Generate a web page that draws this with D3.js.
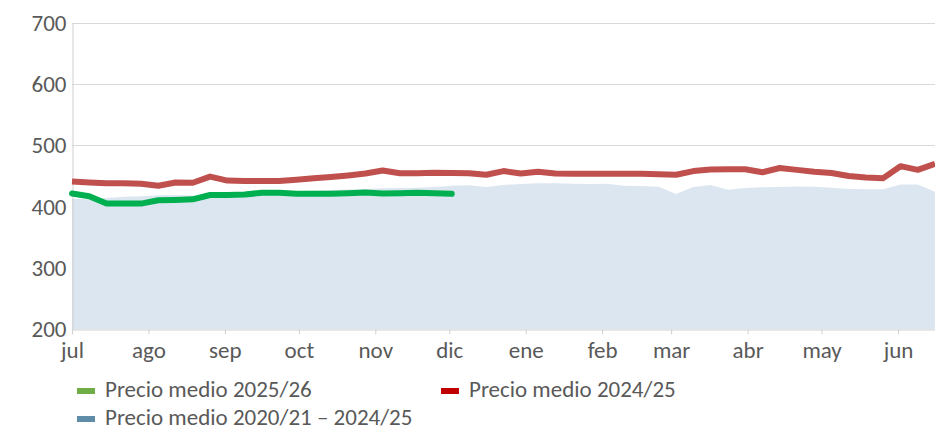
<!DOCTYPE html>
<html>
<head>
<meta charset="utf-8">
<script src="https://cdn.jsdelivr.net/npm/d3@7"></script>
<style>
  body { margin: 0; background: #fff; }
  svg text { font-family: Calibri, Carlito, Lato, sans-serif; fill: #595959; }
</style>
</head>
<body>
<svg id="chart" width="935" height="430"></svg>
<script>
// weekly dates (start of each week)
const weeks = [
  "2025-07-01", "2025-07-08", "2025-07-15", "2025-07-22", "2025-07-29",
  "2025-08-05", "2025-08-12", "2025-08-19", "2025-08-26",
  "2025-09-02", "2025-09-09", "2025-09-16", "2025-09-23", "2025-09-30",
  "2025-10-07", "2025-10-14", "2025-10-21", "2025-10-28",
  "2025-11-04", "2025-11-11", "2025-11-18", "2025-11-25",
  "2025-12-02", "2025-12-09", "2025-12-16", "2025-12-23", "2025-12-30",
  "2026-01-06", "2026-01-13", "2026-01-20", "2026-01-27",
  "2026-02-03", "2026-02-10", "2026-02-17", "2026-02-24",
  "2026-03-03", "2026-03-10", "2026-03-17", "2026-03-24", "2026-03-31",
  "2026-04-07", "2026-04-14", "2026-04-21", "2026-04-28",
  "2026-05-05", "2026-05-12", "2026-05-19", "2026-05-26",
  "2026-06-02", "2026-06-09", "2026-06-16"
];

// Precio medio 2020/21 – 2024/25 (area)
const avgFiveYears = [
  413, 412, 414, 416, 417, 418.5, 419, 418, 420, 421,
  422, 423, 424, 425, 426, 427, 428, 429, 430, 430.5,
  431, 432, 434, 435, 432, 435.5, 437, 438, 438, 437.5,
  437, 437.5, 434, 433.5, 432.5, 420.5, 432, 435.5, 427.5, 430.5,
  431.5, 432, 433, 432.5, 431, 429, 428.5, 428.5, 436, 436,
  424.5
];

// Precio medio 2024/25
const price2425 = [
  441, 439.5, 438, 438, 437.5, 434, 439.5, 439, 449, 442.5,
  442, 442, 442, 444, 446.5, 448.5, 451, 454, 459, 454.5,
  454.5, 455.5, 455, 454.5, 452, 458, 454, 457, 454, 453.5,
  453.5, 453.5, 453.5, 453.5, 453, 452, 458, 460.5, 461, 461,
  456, 463, 460, 457, 455, 450, 447.5, 446.5, 466, 460,
  470
];

// Precio medio 2025/26
const price2526 = [
  421.5, 417, 405, 405, 405, 410.5, 411, 412, 419, 419,
  420, 422.5, 422.5, 421, 421, 421, 422, 423, 421.5, 422,
  422.5, 422, 421
];

const monthLabels = ["jul", "ago", "sep", "oct", "nov", "dic", "ene", "feb", "mar", "abr", "may", "jun"];
const yTicks = [200, 300, 400, 500, 600, 700];

const legendItems = [
  { label: "Precio medio 2025/26", color: "#70AD47" },
  { label: "Precio medio 2024/25", color: "#C00000" },
  { label: "Precio medio 2020/21 \u2013 2024/25", color: "#5F8CA7" }
];

const parseDate = d3.timeParse("%Y-%m-%d");
const dates = weeks.map(parseDate);

const svg = d3.select("#chart");
const margin = { top: 22.7, right: 0, bottom: 100.7, left: 72 };
const width = 935;
const height = 430;
const fontSize = 23;

//Scales
const xScale = d3
  .scaleTime()
  .domain([new Date(2025, 6, 1), new Date(2026, 5, 16)])
  .range([margin.left, width - margin.right]);

const yScale = d3
  .scaleLinear()
  .domain([200, 700])
  .range([height - margin.bottom, margin.top]);

//Gridlines
svg
  .append("g")
  .selectAll("line")
  .data(yTicks.slice(1))
  .enter()
  .append("line")
  .attr("x1", margin.left)
  .attr("x2", width - margin.right)
  .attr("y1", (d) => Math.round(yScale(d)) + 0.5)
  .attr("y2", (d) => Math.round(yScale(d)) + 0.5)
  .attr("stroke", "#D9D9D9")
  .attr("stroke-width", 1);

//Area for the five year average
const area = d3
  .area()
  .x((d, i) => xScale(dates[i]))
  .y0(yScale(200))
  .y1((d) => yScale(d));

svg
  .append("path")
  .datum(avgFiveYears)
  .attr("d", area)
  .attr("fill", "#DCE6F1");

//Axes
const monthTicks = d3.timeMonth.range(new Date(2025, 6, 1), new Date(2026, 5, 2));
const xAxis = d3
  .axisBottom(xScale)
  .tickValues(monthTicks)
  .tickSize(5)
  .tickSizeOuter(0)
  .tickPadding(7)
  .tickFormat((d, i) => monthLabels[i]);

const xAxisG = svg
  .append("g")
  .attr("transform", `translate(0,${Math.round(yScale(200)) + 0.5})`)
  .call(xAxis);
xAxisG.select(".domain").attr("stroke", "#D0D0D0");
xAxisG.selectAll(".tick line").attr("stroke", "#D0D0D0");
xAxisG.selectAll("text").attr("font-size", fontSize).attr("fill", "#595959");

const yAxis = d3
  .axisLeft(yScale)
  .tickValues(yTicks)
  .tickSize(0)
  .tickPadding(6);

const yAxisG = svg
  .append("g")
  .attr("transform", `translate(${margin.left + 0.5},0)`)
  .call(yAxis);
yAxisG.select(".domain").attr("stroke", "#D0D0D0");
yAxisG.selectAll("text").attr("font-size", fontSize).attr("fill", "#595959");

//Lines
const line = d3
  .line()
  .x((d, i) => xScale(dates[i]))
  .y((d) => yScale(d));

svg
  .append("path")
  .datum(price2425)
  .attr("d", line)
  .attr("fill", "none")
  .attr("stroke", "#C0504D")
  .attr("stroke-width", 6)
  .attr("stroke-linejoin", "round");

svg
  .append("path")
  .datum(price2526)
  .attr("d", line)
  .attr("fill", "none")
  .attr("stroke", "#00B050")
  .attr("stroke-width", 6)
  .attr("stroke-linejoin", "round")
  .attr("stroke-linecap", "round");

//Legend (positions are text baselines)
const legendPos = [
  { x: 77, y: 397 },
  { x: 441, y: 397 },
  { x: 77, y: 425 }
];

const legend = svg
  .append("g")
  .selectAll("g")
  .data(legendItems)
  .enter()
  .append("g")
  .attr("transform", (d, i) => `translate(${legendPos[i].x},${legendPos[i].y})`);

legend
  .append("rect")
  .attr("x", 0)
  .attr("y", -9)
  .attr("width", 18)
  .attr("height", 6)
  .attr("fill", (d) => d.color);

legend
  .append("text")
  .attr("x", 28)
  .attr("y", 0)
  .attr("font-size", fontSize)
  .text((d) => d.label);
</script>
</body>
</html>
